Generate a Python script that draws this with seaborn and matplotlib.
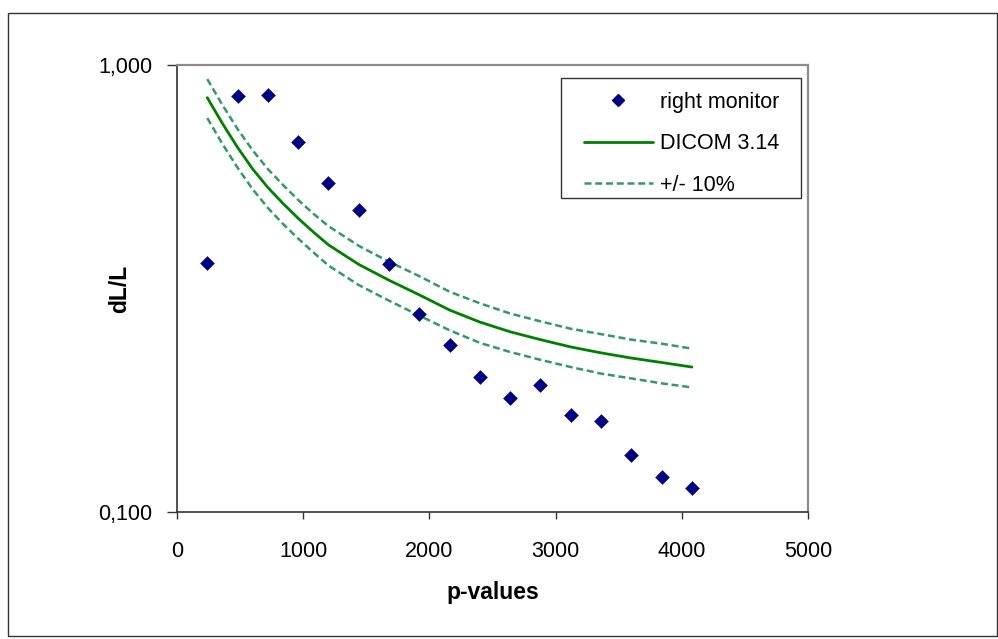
import matplotlib
matplotlib.use('Agg')
import matplotlib.pyplot as plt
import matplotlib.ticker as mticker
from matplotlib.patches import Rectangle
from matplotlib.lines import Line2D
import seaborn as sns

sns.set_theme(style='white')
plt.rcParams['font.family'] = ['Liberation Sans', 'DejaVu Sans']

# values
p_values = [240, 480, 720, 960, 1200, 1440, 1680, 1920, 2160,
            2400, 2640, 2880, 3120, 3360, 3600, 3840, 4080]
right_monitor = [0.361, 0.852, 0.855, 0.671, 0.545, 0.474, 0.358, 0.277, 0.236,
                 0.200, 0.180, 0.192, 0.165, 0.160, 0.134, 0.120, 0.113]

p_curve = [240, 360, 480, 600, 720, 840, 960, 1080, 1200, 1440, 1680,
           1920, 2160, 2400, 2640, 2880, 3120, 3360, 3600, 3840, 4080]
dicom = [0.845, 0.740, 0.654, 0.585, 0.532, 0.490, 0.454, 0.423, 0.396, 0.358, 0.330,
         0.306, 0.283, 0.266, 0.253, 0.243, 0.234, 0.227, 0.221, 0.216, 0.211]
dicom_plus10 = [0.930, 0.814, 0.719, 0.644, 0.585, 0.539, 0.499, 0.465, 0.436, 0.394, 0.363,
                0.337, 0.311, 0.293, 0.278, 0.267, 0.257, 0.250, 0.243, 0.238, 0.232]
dicom_minus10 = [0.761, 0.666, 0.589, 0.527, 0.479, 0.441, 0.409, 0.381, 0.356, 0.322, 0.297,
                 0.275, 0.255, 0.239, 0.228, 0.219, 0.211, 0.204, 0.199, 0.194, 0.190]

x_ticks = [0, 1000, 2000, 3000, 4000, 5000]
y_ticks = [0.1, 1.0]
y_tick_labels = ['0,100', '1,000']

navy = '#000080'
green = '#008000'
dash_green = '#339966'

W, H = 998, 639
fig = plt.figure(figsize=(W / 100, H / 100), dpi=100)
ax = fig.add_axes([177 / W, 1 - 512 / H, (808 - 177) / W, (512 - 65) / H])

dash = (0, (2.8, 1.5))
line_kw = dict(solid_joinstyle='round', dash_joinstyle='round')
sns.lineplot(x=p_curve, y=dicom_plus10, ax=ax, color=dash_green, linewidth=1.8, linestyle=dash, **line_kw)
sns.lineplot(x=p_curve, y=dicom_minus10, ax=ax, color=dash_green, linewidth=1.8, linestyle=dash, **line_kw)
sns.lineplot(x=p_curve, y=dicom, ax=ax, color=green, linewidth=2.0, **line_kw)
sns.scatterplot(x=p_values, y=right_monitor, ax=ax, marker='D', s=56, color=navy,
                linewidth=0, zorder=5)

ax.set_yscale('log')
ax.set_xlim(0, 5000)
ax.set_ylim(0.1, 1.0)
ax.set_xticks(x_ticks)
ax.set_xticklabels([str(t) for t in x_ticks])
ax.yaxis.set_major_locator(mticker.FixedLocator(y_ticks))
ax.yaxis.set_major_formatter(mticker.FixedFormatter(y_tick_labels))
ax.yaxis.set_minor_locator(mticker.NullLocator())
ax.grid(False)

ax.tick_params(axis='x', direction='out', length=5, width=1, color='#333333',
               labelsize=15.5, pad=16, labelcolor='black', bottom=True)
ax.tick_params(axis='y', direction='out', length=7, width=1, color='#333333',
               labelsize=15.5, pad=11, labelcolor='black', left=True)

for side in ['left', 'bottom']:
    ax.spines[side].set_color('#333333')
    ax.spines[side].set_linewidth(1.2)
for side in ['top', 'right']:
    ax.spines[side].set_color('#8c8c8c')
    ax.spines[side].set_linewidth(1.6)

ax.set_xlabel('p-values', fontsize=16.5, fontweight='bold', color='black')
ax.set_ylabel('dL/L', fontsize=16.5, fontweight='bold', color='black')
ax.xaxis.set_label_coords(0.5, (512 - 581) / (512 - 65))
ax.yaxis.set_label_coords((131 - 177) / (808 - 177), 0.5)

handles = [
    Line2D([], [], marker='D', markersize=6.5, color=navy, linestyle='none'),
    Line2D([], [], color=green, linewidth=2.0),
    Line2D([], [], color=dash_green, linewidth=1.8, linestyle=dash),
]
labels = ['right monitor', 'DICOM 3.14', '+/- 10%']
leg = ax.legend(handles, labels, loc='upper left',
                bbox_to_anchor=(584 / W, 1 - 92 / H), bbox_transform=fig.transFigure,
                fontsize=15.5, frameon=False, handlelength=3.2,
                handletextpad=0.33, labelspacing=0.95, borderpad=0, borderaxespad=0)
for t in leg.get_texts():
    t.set_color('black')

# legend frame
fig.patches.append(Rectangle((561 / W, 1 - 198 / H), 240 / W, 120 / H, transform=fig.transFigure,
                             fill=False, edgecolor='#333333', linewidth=1.0, zorder=10))
# outer chart border
fig.patches.append(Rectangle((8 / W, 3 / H), 989 / W, 623 / H, transform=fig.transFigure,
                             fill=False, edgecolor='#333333', linewidth=1.0))

fig.savefig('out.png', dpi=100)
